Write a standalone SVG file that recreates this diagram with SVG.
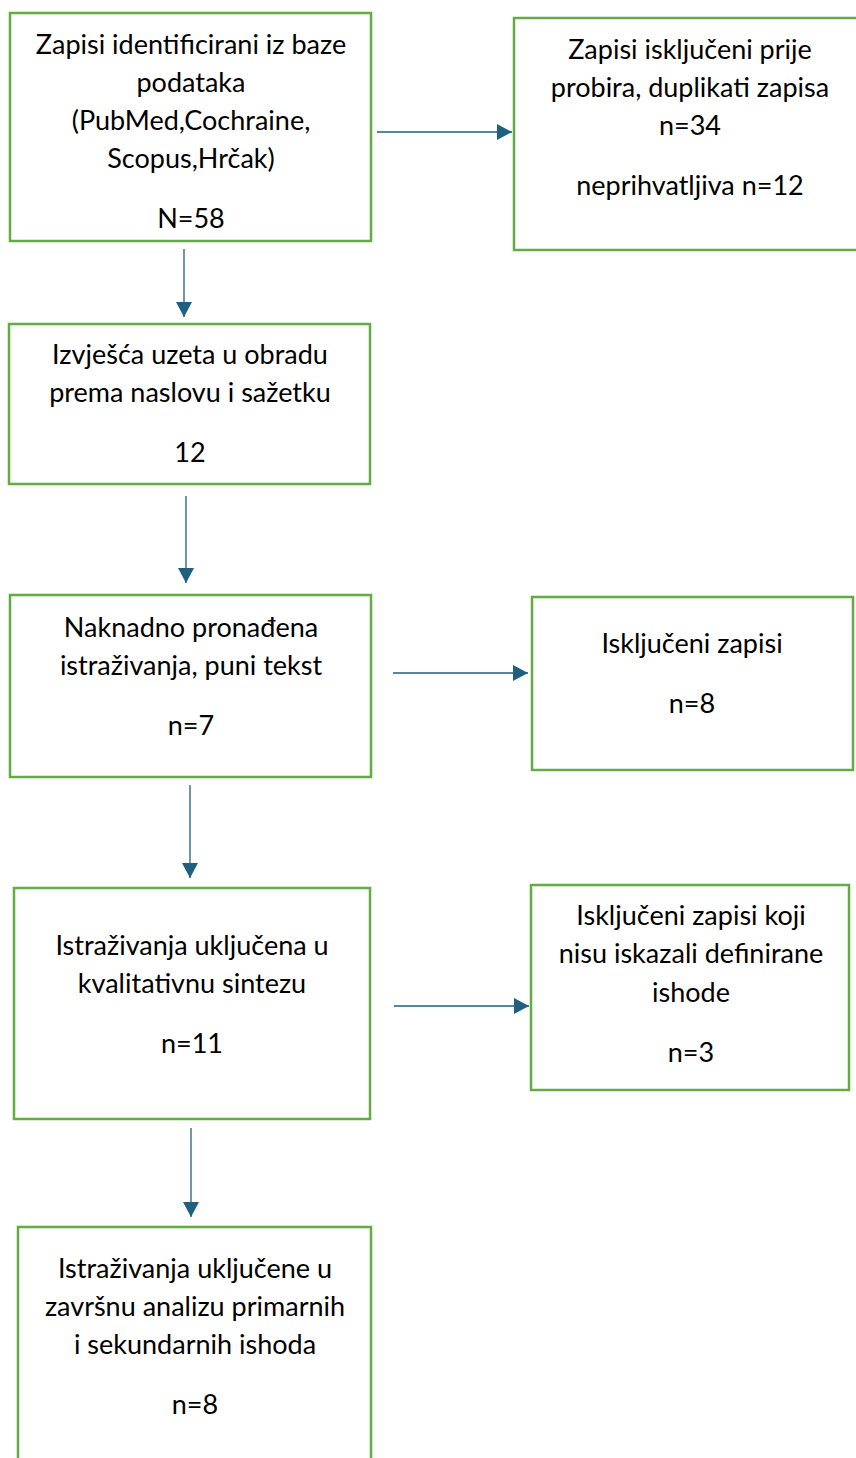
<svg xmlns="http://www.w3.org/2000/svg" width="856" height="1458" viewBox="0 0 856 1458">
<style>
.box{fill:#fff;stroke:#62ad41;stroke-width:2.5}
.t{font-family:Lato,"Liberation Sans",sans-serif;font-size:27px;fill:#000;text-anchor:middle}
.c{stroke:#1f5f80;stroke-width:1.3;fill:none}
</style>
<defs>
<marker id="ah" markerUnits="userSpaceOnUse" markerWidth="16" markerHeight="16" refX="15" refY="8" orient="auto">
<path d="M0,0 L15,8 L0,16 Z" fill="#1f5f80"/>
</marker>
</defs>
<rect width="856" height="1458" fill="#fff"/>
<g id="connectors">
<line class="c" x1="377" y1="132" x2="512" y2="132" marker-end="url(#ah)"/>
<line class="c" x1="184" y1="249" x2="184" y2="317" marker-end="url(#ah)"/>
<line class="c" x1="186" y1="496" x2="186" y2="583" marker-end="url(#ah)"/>
<line class="c" x1="393" y1="673" x2="528" y2="673" marker-end="url(#ah)"/>
<line class="c" x1="190" y1="785" x2="190" y2="878" marker-end="url(#ah)"/>
<line class="c" x1="394" y1="1006" x2="529" y2="1006" marker-end="url(#ah)"/>
<line class="c" x1="191" y1="1128" x2="191" y2="1217" marker-end="url(#ah)"/>
</g>
<g id="n1">
<rect class="box" x="10" y="13" width="361" height="228"/>
<text class="t" x="191" y="54">Zapisi identificirani iz baze</text>
<text class="t" x="191" y="92">podataka</text>
<text class="t" x="191" y="130">(PubMed,Cochraine,</text>
<text class="t" x="191" y="168">Scopus,Hrčak)</text>
<text class="t" x="191" y="228">N=58</text>
</g>
<g id="n2">
<rect class="box" x="514" y="18" width="346" height="232"/>
<text class="t" x="690" y="59">Zapisi isključeni prije</text>
<text class="t" x="690" y="97">probira, duplikati zapisa</text>
<text class="t" x="690" y="135">n=34</text>
<text class="t" x="690" y="195">neprihvatljiva n=12</text>
</g>
<g id="n3">
<rect class="box" x="9" y="324" width="361" height="160"/>
<text class="t" x="190" y="364">Izvješća uzeta u obradu</text>
<text class="t" x="190" y="402">prema naslovu i sažetku</text>
<text class="t" x="190" y="462">12</text>
</g>
<g id="n4">
<rect class="box" x="10" y="595" width="361" height="182"/>
<text class="t" x="191" y="637">Naknadno pronađena</text>
<text class="t" x="191" y="675">istraživanja, puni tekst</text>
<text class="t" x="191" y="735">n=7</text>
</g>
<g id="n5">
<rect class="box" x="532" y="597" width="321" height="173"/>
<text class="t" x="692" y="653">Isključeni zapisi</text>
<text class="t" x="692" y="713">n=8</text>
</g>
<g id="n6">
<rect class="box" x="14" y="888" width="356" height="231"/>
<text class="t" x="192" y="955">Istraživanja uključena u</text>
<text class="t" x="192" y="993">kvalitativnu sintezu</text>
<text class="t" x="192" y="1053">n=11</text>
</g>
<g id="n7">
<rect class="box" x="531" y="885" width="318" height="205"/>
<text class="t" x="691" y="925">Isključeni zapisi koji</text>
<text class="t" x="691" y="963">nisu iskazali definirane</text>
<text class="t" x="691" y="1002">ishode</text>
<text class="t" x="691" y="1062">n=3</text>
</g>
<g id="n8">
<rect class="box" x="18" y="1227" width="353" height="250"/>
<text class="t" x="195" y="1278">Istraživanja uključene u</text>
<text class="t" x="195" y="1316">završnu analizu primarnih</text>
<text class="t" x="195" y="1354">i sekundarnih ishoda</text>
<text class="t" x="195" y="1414">n=8</text>
</g>
</svg>
